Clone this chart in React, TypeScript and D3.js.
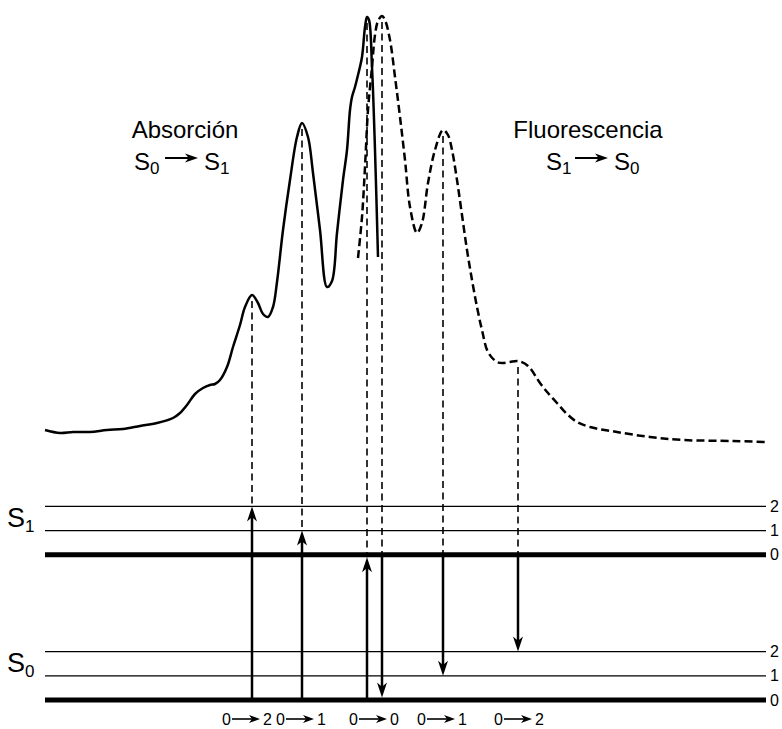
import React, { useRef, useEffect } from "react";
import * as d3 from "d3";

// absorption band (solid), x = energy (arb. units), y = intensity (arb. units)
const absX = [0, 15, 28, 45, 62, 78, 95, 112, 128, 135, 142, 150, 158, 165, 170, 175, 182, 188, 195, 200, 207, 213, 218, 223, 228, 232, 238, 245, 252, 257, 263, 268, 275, 282, 287, 292, 298, 302, 305, 307, 310, 313, 317, 320, 322, 324, 327, 330, 333];
const absY = [20, 17, 18, 18, 20, 21, 24, 27, 32, 37, 45, 56, 62, 65, 66, 70, 83, 103, 125, 143, 155, 147, 136, 133, 143, 168, 220, 270, 313, 327, 313, 277, 220, 163, 169, 217, 270, 300, 340, 353, 363, 375, 393, 423, 433, 430, 383, 300, 193];

// fluorescence band (dashed)
const fluX = [313, 317, 320, 323, 327, 330, 333, 337, 340, 345, 350, 355, 360, 365, 372, 377, 383, 390, 398, 403, 407, 412, 417, 422, 427, 432, 437, 443, 452, 458, 465, 473, 483, 495, 503, 512, 521, 532, 545, 572, 605, 638, 688, 720];
const fluY = [192, 233, 283, 340, 383, 415, 429, 434, 430, 410, 373, 333, 290, 243, 217, 227, 267, 300, 320, 315, 300, 270, 235, 200, 170, 143, 120, 98, 88, 87, 88, 89, 84, 67, 57, 47, 37, 28, 23, 18, 13, 10, 9, 8];

// vibrational levels (energy units)
const vibNumbers = ["0", "1", "2"];
const s0Energy = [0, 1, 2];
const s1Energy = [6, 7, 8];

// vertical transitions
const absTransX = [207, 257, 322];
const absTransPeak = [155, 327, 433];
const absTransVib = [2, 1, 0];
const fluTransX = [337, 398, 473];
const fluTransPeak = [434, 320, 89];
const fluTransVib = [0, 1, 2];

// labels under the diagram
const transLabelX = [203, 257, 330, 398, 475];
const transLabelTo = ["2", "1", "0", "1", "2"];

const FONT = '"Liberation Sans", Arial, Helvetica, sans-serif';

const App = () => {
  const chartRef = useRef<SVGSVGElement>(null);

  useEffect(() => {
    const svg = d3.select(chartRef.current);
    svg.selectAll("*").remove();

    const x = d3.scaleLinear().domain([0, 720]).range([45, 765]);
    const y = d3.scaleLinear().domain([0, 435]).range([450, 15]);
    const yE = d3.scaleLinear().domain([0, 8]).range([700, 506.4]);

    const g = svg.append("g").attr("font-family", FONT).attr("fill", "#000");

    const arrow = (x1, y1, x2, y2, w, len, half) => {
      const dx = x2 - x1;
      const dy = y2 - y1;
      const L = Math.hypot(dx, dy);
      const ux = dx / L;
      const uy = dy / L;
      const bx = x2 - ux * len;
      const by = y2 - uy * len;
      const nx = -uy;
      const ny = ux;
      g.append("line")
        .attr("x1", x1)
        .attr("y1", y1)
        .attr("x2", x2 - ux * len * 0.6)
        .attr("y2", y2 - uy * len * 0.6)
        .attr("stroke", "#000")
        .attr("stroke-width", w);
      g.append("path")
        .attr(
          "d",
          `M${x2},${y2}L${bx + nx * half},${by + ny * half}L${x2 - ux * len * 0.72},${
            y2 - uy * len * 0.72
          }L${bx - nx * half},${by - ny * half}Z`
        )
        .attr("fill", "#000");
    };

    const sLabel = (px, base, sub, fs, subFs, dy) => {
      const t = g.append("text").attr("x", px).attr("y", base).attr("font-size", fs).text("S");
      t.append("tspan").attr("dy", dy).attr("font-size", subFs).text(sub);
    };

    // spectra
    const absData = absX.map((v, i) => [v, absY[i]]);
    const fluData = fluX.map((v, i) => [v, fluY[i]]);
    const line = d3
      .line()
      .x((d) => x(d[0]))
      .y((d) => y(d[1]))
      .curve(d3.curveCatmullRom.alpha(0.5));

    g.append("path")
      .attr("d", line(absData))
      .attr("fill", "none")
      .attr("stroke", "#000")
      .attr("stroke-width", 2.5)
      .attr("stroke-linejoin", "round");

    g.append("path")
      .attr("d", line(fluData))
      .attr("fill", "none")
      .attr("stroke", "#000")
      .attr("stroke-width", 2.5)
      .attr("stroke-dasharray", "8,4");

    // energy levels
    const levels = [
      ...s1Energy.map((e, i) => ({ e, v: i })),
      ...s0Energy.map((e, i) => ({ e, v: i })),
    ];
    levels.forEach((l) => {
      g.append("line")
        .attr("x1", x(0))
        .attr("x2", x(721))
        .attr("y1", yE(l.e))
        .attr("y2", yE(l.e))
        .attr("stroke", "#000")
        .attr("stroke-width", l.v === 0 ? 5 : 1.3);
      g.append("text")
        .attr("x", 770)
        .attr("y", yE(l.e) + 5.5)
        .attr("font-size", 16)
        .text(vibNumbers[l.v]);
    });

    sLabel(7, 527, "1", 27, 17, 5);
    sLabel(7, 672, "0", 27, 17, 5);

    // absorption transitions
    absTransX.forEach((tx, i) => {
      const top = yE(s1Energy[absTransVib[i]]) + (absTransVib[i] === 0 ? 2.5 : 0);
      g.append("line")
        .attr("x1", x(tx))
        .attr("x2", x(tx))
        .attr("y1", y(absTransPeak[i]) + 6)
        .attr("y2", top)
        .attr("stroke", "#000")
        .attr("stroke-width", 1.6)
        .attr("stroke-dasharray", "7,4.5");
      arrow(x(tx), yE(s0Energy[0]), x(tx), top, 2.5, 15, 5);
    });

    // fluorescence transitions
    fluTransX.forEach((tx, i) => {
      const bottom = yE(s0Energy[fluTransVib[i]]) - (fluTransVib[i] === 0 ? 2.5 : 0);
      g.append("line")
        .attr("x1", x(tx))
        .attr("x2", x(tx))
        .attr("y1", y(fluTransPeak[i]) + 6)
        .attr("y2", yE(s1Energy[0]))
        .attr("stroke", "#000")
        .attr("stroke-width", 1.6)
        .attr("stroke-dasharray", "7,4.5");
      arrow(x(tx), yE(s1Energy[0]), x(tx), bottom, 2.5, 15, 5);
    });

    // transition labels
    transLabelX.forEach((lx, i) => {
      const cx = x(lx);
      g.append("text").attr("x", cx - 26).attr("y", 725).attr("font-size", 16).text("0");
      arrow(cx - 16, 719, cx + 12, 719, 1.6, 11, 4);
      g.append("text").attr("x", cx + 15).attr("y", 725).attr("font-size", 16).text(transLabelTo[i]);
    });

    // band titles
    g.append("text")
      .attr("x", 185)
      .attr("y", 138)
      .attr("text-anchor", "middle")
      .attr("font-size", 24)
      .text("Absorción");
    sLabel(134, 170, "0", 24, 17, 4);
    arrow(165, 158, 198, 158, 2, 13, 4.5);
    sLabel(204, 170, "1", 24, 17, 4);

    g.append("text")
      .attr("x", 588)
      .attr("y", 138)
      .attr("text-anchor", "middle")
      .attr("font-size", 24)
      .text("Fluorescencia");
    sLabel(546, 170, "1", 24, 17, 4);
    arrow(575, 158, 608, 158, 2, 13, 4.5);
    sLabel(614, 170, "0", 24, 17, 4);
  }, []);

  return (
    <svg
      ref={chartRef}
      width={782}
      height={729}
      style={{ position: "absolute", left: 0, top: 0, background: "#fff" }}
    />
  );
};

export default App;
